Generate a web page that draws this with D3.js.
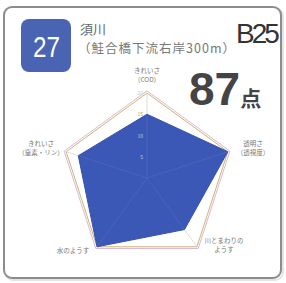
<!DOCTYPE html>
<html>
<head>
<meta charset="utf-8">
<script src="https://cdn.jsdelivr.net/npm/d3@7"></script>
<style>
  body { margin: 0; background: #fff; }
  text { font-family: "Noto Sans CJK JP", "Noto Sans", sans-serif; }
</style>
</head>
<body>
<div id="chart"></div>
<script>
// chart data
var axisLabels = [["きれいさ", "（COD）"], ["透明さ", "（透視度）"], ["川とまわりの", "ようす"], ["水のようす"], ["きれいさ", "（窒素・リン）"]];
var scores = [15, 20, 15, 20, 17];
var tickValues = [5, 10, 15, 20];
var siteNo = "27";
var siteName = "須川";
var siteNote = "（鮭合橋下流右岸300m）";
var siteCode = "B25";
var totalScore = "87";

var svgWidth = 286;
var svgHeight = 283;

var svg = d3.select("#chart").append("svg")
  .attr("width", svgWidth)
  .attr("height", svgHeight);

// card
svg.append("rect")
  .attr("x", 5).attr("y", 8)
  .attr("width", 278).attr("height", 272)
  .attr("rx", 8)
  .attr("fill", "#fff")
  .attr("stroke", "#e4e4e4")
  .attr("stroke-width", 2);
svg.append("rect")
  .attr("x", 4).attr("y", 7)
  .attr("width", 277).attr("height", 271)
  .attr("rx", 8)
  .attr("fill", "#fff")
  .attr("stroke", "#8c8c8c")
  .attr("stroke-width", 2);

// badge
svg.append("rect")
  .attr("x", 21).attr("y", 19)
  .attr("width", 50).attr("height", 53)
  .attr("rx", 8)
  .attr("fill", "#4a64b4");
svg.append("text")
  .attr("x", 33).attr("y", 57)
  .attr("fill", "#fff")
  .attr("textLength", 27)
  .attr("lengthAdjust", "spacingAndGlyphs")
  .style("font-family", "'Liberation Sans Narrow', 'Liberation Sans', sans-serif")
  .style("font-size", "30px")
  .text(siteNo);

svg.append("text")
  .attr("x", 80).attr("y", 34)
  .attr("fill", "#666")
  .style("font-size", "13px")
  .text(siteName);
svg.append("text")
  .attr("x", 78).attr("y", 53)
  .attr("fill", "#777")
  .attr("textLength", 157)
  .style("font-size", "12.5px")
  .text(siteNote);

svg.append("text")
  .attr("x", 236).attr("y", 43)
  .attr("fill", "#333")
  .style("font-family", "'Liberation Sans Narrow', 'Liberation Sans', sans-serif")
  .style("font-size", "28px")
  .style("letter-spacing", "-3px")
  .text(siteCode);

var score = svg.append("text")
  .attr("x", 189).attr("y", 105)
  .attr("fill", "#444")
  .style("font-family", "'Liberation Sans', sans-serif")
  .style("font-weight", "bold");
score.append("tspan").style("font-size", "46px").text(totalScore);
score.append("tspan").style("font-size", "21px")
  .style("font-family", "'Noto Sans CJK JP', sans-serif")
  .attr("dy", 1)
  .text("点");

// radar
var cx = 147, cy = 178;
var rScale = d3.scaleLinear().domain([0, 20]).range([0, 85]);
var n = axisLabels.length;
function angle(i) { return -Math.PI / 2 + i * 2 * Math.PI / n; }
function pt(i, v) {
  return [cx + rScale(v) * Math.cos(angle(i)), cy + rScale(v) * Math.sin(angle(i))];
}
var line = d3.line();

var chartGroup = svg.append("g");

// outer frame lines
chartGroup.append("path")
  .attr("d", line(d3.range(n).map(i => pt(i, 20.5))) + "Z")
  .attr("fill", "none")
  .attr("stroke", "#d2a6c8")
  .attr("stroke-width", 0.8);
chartGroup.append("path")
  .attr("d", line(d3.range(n).map(i => pt(i, 20))) + "Z")
  .attr("fill", "none")
  .attr("stroke", "#cdb478")
  .attr("stroke-width", 1);

// spokes
chartGroup.selectAll(".spoke")
  .data(d3.range(n))
  .enter().append("line")
  .attr("x1", cx).attr("y1", cy)
  .attr("x2", i => pt(i, 20)[0])
  .attr("y2", i => pt(i, 20)[1])
  .attr("stroke", "#c8c8c8")
  .attr("stroke-width", 0.6);

// data polygon
chartGroup.append("path")
  .attr("d", line(scores.map((v, i) => pt(i, v))) + "Z")
  .attr("fill", "#3c58b6")
  .attr("stroke", "#3550ad")
  .attr("stroke-width", 1);

// spokes over fill (faint)
chartGroup.selectAll(".spoke2")
  .data(d3.range(n))
  .enter().append("line")
  .attr("x1", cx).attr("y1", cy)
  .attr("x2", i => pt(i, scores[i])[0])
  .attr("y2", i => pt(i, scores[i])[1])
  .attr("stroke", "#5069bd")
  .attr("stroke-width", 0.7);

// tick labels on top axis
chartGroup.selectAll(".tick")
  .data(tickValues)
  .enter().append("text")
  .attr("x", cx - 4)
  .attr("y", d => cy - rScale(d) + 2)
  .attr("text-anchor", "end")
  .attr("fill", d => d === 15 ? "#b89a50" : "#c8c8c8")
  .style("font-size", "5px")
  .text(d => d);

// axis labels
var labelPos = [[147, 73], [253, 146], [224, 243], [73, 253], [41, 146]];
axisLabels.forEach(function(lines, i) {
  var t = chartGroup.append("text")
    .attr("x", labelPos[i][0])
    .attr("y", labelPos[i][1])
    .attr("text-anchor", "middle")
    .attr("fill", "#777")
    .style("font-size", "6.5px");
  lines.forEach(function(s, k) {
    t.append("tspan")
      .attr("x", labelPos[i][0])
      .attr("dy", k === 0 ? 0 : 9)
      .text(s);
  });
});
</script>
</body>
</html>
